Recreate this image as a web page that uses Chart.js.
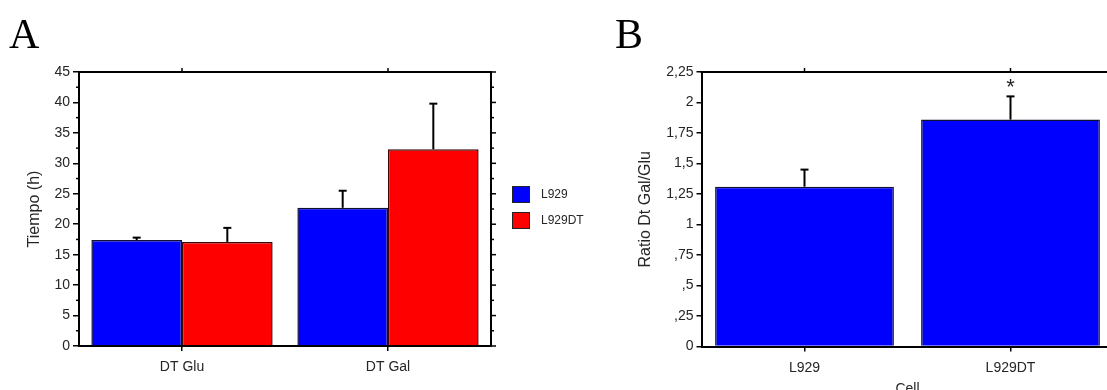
<!DOCTYPE html>
<html>
<head>
<meta charset="utf-8">
<script src="https://cdn.jsdelivr.net/npm/chart.js@4.4.1/dist/chart.umd.min.js"></script>
<style>
    html, body { margin: 0; padding: 0; background: #fff; overflow: hidden; width: 1107px; height: 390px; }
    #wrapA { position: absolute; left: 0; top: 0; width: 600px; height: 390px; }
    #wrapB { position: absolute; left: 600px; top: 0; width: 520px; height: 390px; }
</style>
</head>
<body>
<div id="wrapA"><canvas id="chartA"></canvas></div>
<div id="wrapB"><canvas id="chartB"></canvas></div>
<script>
// Panel A data
const groupsA = ['DT Glu', 'DT Gal'];
const seriesNamesA = ['L929', 'L929DT'];
const l929A = [17.4, 22.7];
const l929ErrA = [0.4, 2.8];
const l929dtA = [17.1, 32.3];
const l929dtErrA = [2.3, 7.5];

// Panel B data
const cellsB = ['L929', 'L929DT'];
const ratioB = [1.31, 1.86];
const ratioErrB = [0.14, 0.19];
const ratioTickLabels = ['0', ',25', ',5', ',75', '1', '1,25', '1,5', '1,75', '2', '2,25'];
const significantB = [false, true];

const TEXT = '#262626';
const SANS = "'Liberation Sans', Arial, sans-serif";
const BLUE = '#0000ff';
const RED = '#ff0000';

function line(ctx, x1, y1, x2, y2) {
    ctx.beginPath();
    ctx.moveTo(x1, y1);
    ctx.lineTo(x2, y2);
    ctx.stroke();
}

function drawErrorBars(chart, errs) {
    const { ctx, scales: { y } } = chart;
    ctx.save();
    ctx.strokeStyle = '#000';
    ctx.lineWidth = 2;
    chart.data.datasets.forEach((ds, d) => {
        const meta = chart.getDatasetMeta(d);
        meta.data.forEach((bar, i) => {
            const top = y.getPixelForValue(ds.data[i] + errs[d][i]);
            line(ctx, bar.x, bar.y, bar.x, top);
            line(ctx, bar.x - 4, top, bar.x + 4, top);
        });
    });
    ctx.restore();
}

function drawLetter(ctx, letter, x, y) {
    ctx.save();
    ctx.fillStyle = '#000';
    ctx.font = "42px 'Liberation Serif', 'Times New Roman', serif";
    ctx.textBaseline = 'alphabetic';
    ctx.fillText(letter, x, y);
    ctx.restore();
}

const framePluginA = {
    id: 'frameA',
    afterDraw(chart) {
        const { ctx, chartArea: a, scales: { x, y } } = chart;
        ctx.save();
        ctx.strokeStyle = '#000';
        ctx.lineWidth = 2;
        line(ctx, a.left - 1, a.top, a.right + 1, a.top);
        line(ctx, a.right, a.top, a.right, a.bottom);
        ctx.lineWidth = 1.5;
        for (let v = 0; v <= 45; v += 2.5) {
            const py = y.getPixelForValue(v);
            const major = v % 5 === 0;
            if (!major) line(ctx, a.left - 3, py, a.left, py);
            line(ctx, a.right, py, a.right + (major ? 5 : 3), py);
        }
        groupsA.forEach((g, i) => {
            const px = x.getPixelForValue(i);
            line(ctx, px, a.top, px, a.top - 4);
        });
        ctx.restore();

        drawErrorBars(chart, [l929ErrA, l929dtErrA]);

        // legend
        ctx.save();
        ctx.font = '12px ' + SANS;
        ctx.textBaseline = 'middle';
        chart.data.datasets.forEach((ds, d) => {
            const top = 186 + d * 26;
            ctx.fillStyle = ds.backgroundColor;
            ctx.fillRect(512, top, 18, 17);
            ctx.strokeStyle = '#222';
            ctx.lineWidth = 1;
            ctx.strokeRect(512.5, top + 0.5, 17, 16);
            ctx.fillStyle = TEXT;
            ctx.fillText(ds.label, 541, top + 9);
        });
        ctx.restore();

        drawLetter(ctx, 'A', 9, 48);
    }
};

const framePluginB = {
    id: 'frameB',
    afterDraw(chart) {
        const { ctx, chartArea: a, scales: { x, y } } = chart;
        ctx.save();
        ctx.strokeStyle = '#000';
        ctx.lineWidth = 2;
        line(ctx, a.left - 1, a.top, a.right + 1, a.top);
        line(ctx, a.right, a.top, a.right, a.bottom);
        ctx.lineWidth = 1.5;
        cellsB.forEach((c, i) => {
            const px = x.getPixelForValue(i);
            line(ctx, px, a.top, px, a.top - 4);
        });
        ctx.restore();

        drawErrorBars(chart, [ratioErrB]);

        // significance mark
        ctx.save();
        ctx.fillStyle = TEXT;
        ctx.font = '22px ' + SANS;
        ctx.textAlign = 'center';
        ctx.textBaseline = 'middle';
        const meta = chart.getDatasetMeta(0);
        significantB.forEach((s, i) => {
            if (!s) return;
            const top = y.getPixelForValue(ratioB[i] + ratioErrB[i]);
            ctx.fillText('*', meta.data[i].x, top - 8);
        });
        ctx.restore();

        drawLetter(ctx, 'B', 15, 48);
    }
};

function axisFont(size) {
    return { family: SANS, size: size };
}

new Chart(document.getElementById('chartA'), {
    type: 'bar',
    data: {
        labels: groupsA,
        datasets: [
            { label: seriesNamesA[0], data: l929A, backgroundColor: BLUE, borderColor: '#101030', borderWidth: 1.5 },
            { label: seriesNamesA[1], data: l929dtA, backgroundColor: RED, borderColor: '#3a0808', borderWidth: 1.5 },
        ],
    },
    options: {
        responsive: true,
        maintainAspectRatio: false,
        animation: false,
        layout: { padding: { top: 72, right: 109, left: 0, bottom: 0 } },
        datasets: { bar: { categoryPercentage: 0.88, barPercentage: 1.0 } },
        plugins: { legend: { display: false }, tooltip: { enabled: false } },
        scales: {
            x: {
                grid: { display: true, drawOnChartArea: false, offset: false, tickLength: 5, color: '#000', lineWidth: 1.5 },
                border: { display: true, color: '#000', width: 2 },
                ticks: { color: TEXT, font: axisFont(14), padding: 8 },
                afterFit: (scale) => { scale.height = 44; },
            },
            y: {
                min: 0,
                max: 45,
                grid: { display: true, drawOnChartArea: false, tickLength: 6, color: '#000', lineWidth: 1.5 },
                border: { display: true, color: '#000', width: 2 },
                ticks: { stepSize: 5, color: TEXT, font: axisFont(14), padding: 3 },
                title: { display: true, text: 'Tiempo (h)', color: TEXT, font: axisFont(16), padding: { top: 25, bottom: 0 } },
                afterFit: (scale) => { scale.width = 79; },
            },
        },
    },
    plugins: [framePluginA],
});

new Chart(document.getElementById('chartB'), {
    type: 'bar',
    data: {
        labels: cellsB,
        datasets: [
            { label: 'Ratio', data: ratioB, backgroundColor: BLUE, borderColor: '#101030', borderWidth: 1.5 },
        ],
    },
    options: {
        responsive: true,
        maintainAspectRatio: false,
        animation: false,
        layout: { padding: { top: 72, right: 6.5, left: 0, bottom: 0 } },
        datasets: { bar: { categoryPercentage: 0.868, barPercentage: 1.0 } },
        plugins: { legend: { display: false }, tooltip: { enabled: false } },
        scales: {
            x: {
                grid: { display: true, drawOnChartArea: false, offset: false, tickLength: 5, color: '#000', lineWidth: 1.5 },
                border: { display: true, color: '#000', width: 2 },
                ticks: { color: TEXT, font: axisFont(14), padding: 8 },
                title: { display: true, text: 'Cell', color: TEXT, font: { family: SANS, size: 14, lineHeight: 1 }, padding: { top: 0, bottom: -6 } },
                afterFit: (scale) => { scale.height = 43.5; },
            },
            y: {
                min: 0,
                max: 2.25,
                grid: { display: true, drawOnChartArea: false, tickLength: 5, color: '#000', lineWidth: 1.5 },
                border: { display: true, color: '#000', width: 2 },
                ticks: {
                    stepSize: 0.25,
                    color: TEXT,
                    font: axisFont(14),
                    padding: 3,
                    callback: (value, index) => ratioTickLabels[index],
                },
                title: { display: true, text: 'Ratio Dt Gal/Glu', color: TEXT, font: axisFont(16), padding: { top: 36, bottom: 0 } },
                afterFit: (scale) => { scale.width = 101.5; },
            },
        },
    },
    plugins: [framePluginB],
});
</script>
</body>
</html>
